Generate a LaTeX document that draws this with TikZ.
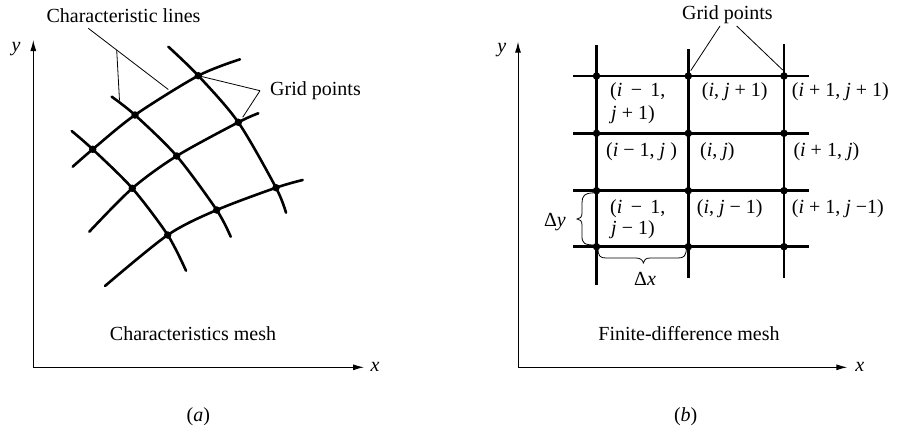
\documentclass[tikz,border=0pt]{standalone}
\usepackage{fontspec}
\setmainfont{Liberation Serif}
\usetikzlibrary{arrows.meta}
\begin{document}
\begin{tikzpicture}[x=1pt,y=-1pt,
  lbl/.style={inner sep=0pt, font=\fontsize{20}{24}\selectfont},
  axis/.style={line width=1pt, -{Latex[length=11pt,width=6pt]}},
  mesh/.style={line width=2.6pt, line cap=round},
  fd/.style={line width=2.8pt},
  leader/.style={line width=0.8pt},
  gp/.style={circle, fill, inner sep=0pt, minimum size=7.5pt}]
\useasboundingbox (0,0) rectangle (899,429);

% ---------- (a) axes ----------
\coordinate (LO) at (33.3,367.3);
\coordinate (LY) at (33.3,40);
\coordinate (LX) at (364,367.3);
\draw[axis] (LO) -- (LY);
\draw[axis] (LO) -- (LX);
\node[lbl] (ly) at (16,49) {\textit{y}};
\node[lbl] (lx) at (375,367) {\textit{x}};

% ---------- (a) characteristics mesh ----------
\coordinate (P1) at (198.3,75.7);
\coordinate (P2) at (135,115);
\coordinate (P3) at (238.3,122.3);
\coordinate (P4) at (92.7,149.3);
\coordinate (P5) at (176.7,156);
\coordinate (P6) at (132.3,188.3);
\coordinate (P7) at (276,187.7);
\coordinate (P8) at (216.7,210);
\coordinate (P9) at (167.7,235);
\coordinate (A1s) at (72.7,166.7);  \coordinate (A1e) at (240,59.3);
\coordinate (A2s) at (89.3,231.7);  \coordinate (A2e) at (258.3,113.3);
\coordinate (A3s) at (105,286);     \coordinate (A3e) at (302.7,180);
\coordinate (B1s) at (71.7,131);    \coordinate (B1e) at (186,270.7);
\coordinate (B2s) at (111.7,96.7);  \coordinate (B2e) at (230.7,236.7);
\coordinate (B3s) at (168.3,46.7);  \coordinate (B3e) at (286,212.7);

\draw[mesh] plot[smooth] coordinates {(A1s) (P4) (P2) (P1) (A1e)};
\draw[mesh] plot[smooth] coordinates {(A2s) (P6) (P5) (P3) (A2e)};
\draw[mesh] plot[smooth] coordinates {(A3s) (P9) (P8) (P7) (A3e)};
\draw[mesh] plot[smooth] coordinates {(B1s) (P4) (P6) (P9) (B1e)};
\draw[mesh] plot[smooth] coordinates {(B2s) (P2) (P5) (P8) (B2e)};
\draw[mesh] plot[smooth] coordinates {(B3s) (P1) (P3) (P7) (B3e)};
\foreach \p in {P1,P2,P3,P4,P5,P6,P7,P8,P9}
  \node[gp] (d\p) at (\p) {};

% leaders (a)
\node[lbl] (cl) at (123.5,16) {Characteristic lines};
\coordinate (cl1) at (88.3,28.3);
\coordinate (clA) at (168.3,89.5);
\coordinate (clJ) at (116.7,50);
\coordinate (clB) at (119.5,100.5);
\draw[leader] (cl1) -- (clA);
\draw[leader] (clJ) -- (clB);

\node[lbl] (gpa) at (315.5,91) {Grid points};
\coordinate (gJ) at (260,90.7);
\coordinate (gP3) at (242.7,117.3);
\draw[leader] (gJ) -- (dP1.center);
\draw[leader] (gJ) -- (gP3);

\node[lbl] (capa1) at (193,333.3) {Characteristics mesh};
\node[lbl] (capa) at (198.3,416.7) {(\textit{a})};

% ---------- (b) axes ----------
\coordinate (RO) at (518,367.3);
\coordinate (RY) at (518,41.7);
\coordinate (RX) at (847.3,367.3);
\draw[axis] (RO) -- (RY);
\draw[axis] (RO) -- (RX);
\node[lbl] (ry) at (501.7,50) {\textit{y}};
\node[lbl] (rx) at (859.7,367) {\textit{x}};

% ---------- (b) finite-difference mesh ----------
\draw[fd] (596.5,45) -- (596.5,285);
\draw[fd] (688.3,49) -- (688.3,278);
\draw[fd] (784,44) -- (784,278);
\foreach \yy in {76,133.3,190.7,246.7}
  \draw[fd] (573.3,\yy) -- (809.3,\yy);
\foreach \xx/\i in {596.5/1,688.3/2,784/3}
  \foreach \yy/\j in {76/1,133.3/2,190.7/3,246.7/4}
    \node[gp] (g\i\j) at (\xx,\yy) {};

\node[lbl,anchor=west] (c11a) at (610,91.5) {(\textit{i}\, − \,1,};
\node[lbl,anchor=west] (c11b) at (611,114.5) {\textit{j} + 1)};
\node[lbl,anchor=west] (c21) at (701.7,91.7) {(\textit{i}, \textit{j} + 1)};
\node[lbl,anchor=west] (c31) at (791.7,91.7) {(\textit{i} + 1, \textit{j} + 1)};
\node[lbl,anchor=west] (c12) at (606,151.7) {(\textit{i} − 1, \textit{j} )};
\node[lbl,anchor=west] (c22) at (700,151.7) {(\textit{i}, \textit{j})};
\node[lbl,anchor=west] (c32) at (793.3,151.7) {(\textit{i} + 1, \textit{j})};
\node[lbl,anchor=west] (c13a) at (610,208.3) {(\textit{i}\, − \,1,};
\node[lbl,anchor=west] (c13b) at (611,230) {\textit{j} − 1)};
\node[lbl,anchor=west] (c23) at (696.7,208.3) {(\textit{i}, \textit{j} − 1)};
\node[lbl,anchor=west] (c33) at (791.7,208.3) {(\textit{i} + 1, \textit{j} −1)};

% braces
\draw[leader] (g13.center) ++(-1.5,2)
  .. controls (584,193) and (582,196) .. (582,203) -- (582,213)
  .. controls (582,217) and (580,219) .. (577,219)
  .. controls (580,219) and (582,221) .. (582,225) -- (582,236)
  .. controls (582,243) and (584,245) .. (595,245);
\node[lbl] (dy) at (555,221.7) {Δ\textit{y}};
\draw[leader] (g14.center) ++(1.5,1.5)
  .. controls (598,256) and (600,258) .. (606,258) -- (636,258)
  .. controls (640,258) and (643,260) .. (643.3,263)
  .. controls (643.6,260) and (646,258) .. (650,258) -- (678,258)
  .. controls (684,258) and (686,256) .. (686.5,248);
\node[lbl] (dx) at (645,279) {Δ\textit{x}};

% leaders (b)
\node[lbl] (gpb) at (727.4,15) {Grid points};
\coordinate (gb1) at (720,26);
\coordinate (gb2) at (736.7,26);
\coordinate (gbe1) at (690.7,70.7);
\coordinate (gbe2) at (782.7,70);
\draw[leader] (gb1) -- (gbe1);
\draw[leader] (gb2) -- (gbe2);

\node[lbl] (capb1) at (689,333.3) {Finite-difference mesh};
\node[lbl] (capb) at (685.7,416.7) {(\textit{b})};
\end{tikzpicture}
\end{document}
